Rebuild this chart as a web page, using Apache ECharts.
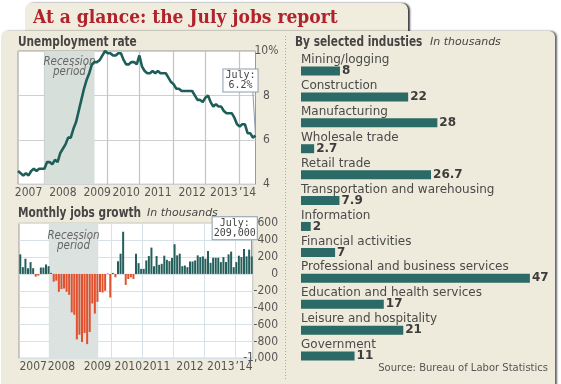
<!DOCTYPE html>
<html><head><meta charset="utf-8">
<script src="https://cdn.jsdelivr.net/npm/echarts@6/dist/echarts.min.js"></script>
<style>html,body{margin:0;padding:0;background:#fff}#c{width:561px;height:384px}</style>
</head><body><div id="c"></div>
<script>
// ---- data ----
const months = [];
for (let y = 2007; y <= 2014; y++) for (let m = 1; m <= 12; m++) { if (y === 2014 && m > 7) break; months.push(y + '-' + String(m).padStart(2, '0')); }

const unemployment = [
  4.6,4.5,4.4,4.5,4.4,4.6,4.7,4.6,4.7,4.7,4.7,5.0,
  5.0,4.9,5.1,5.0,5.4,5.6,5.8,6.1,6.1,6.5,6.8,7.3,
  7.8,8.3,8.7,9.0,9.4,9.5,9.5,9.6,9.8,10.0,9.9,9.9,
  9.8,9.8,9.9,9.9,9.6,9.4,9.4,9.5,9.5,9.4,9.8,9.3,
  9.1,9.0,9.0,9.1,9.0,9.1,9.0,9.0,9.0,8.8,8.6,8.5,
  8.3,8.3,8.2,8.2,8.2,8.2,8.2,8.0,7.8,7.8,7.7,7.9,
  8.0,7.7,7.5,7.6,7.5,7.5,7.3,7.2,7.2,7.2,7.0,6.7,
  6.6,6.7,6.7,6.3,6.3,6.1,6.2
];
const jobsGrowth = [
  232,80,180,68,140,68,-32,-20,76,76,112,92,
  12,-92,-80,-212,-180,-172,-212,-248,-456,-484,-776,-720,
  -808,-700,-832,-688,-350,-470,-330,-215,-220,-200,5,-280,
  12,-40,150,240,500,-130,-60,-40,-60,240,128,60,
  60,160,212,312,92,212,108,120,216,168,152,188,
  352,220,240,92,100,80,148,148,160,220,200,208,
  180,272,132,192,192,192,140,200,140,232,264,80,
  140,216,200,296,208,288,209
];
const yearLabels = ['2007','2008','2009','2010','2011','2012','2013','\u201914'];
const lineYearIdx = [4,17,30,41,53,66,78,87];
const lineGridIdx = [10,22,34,46,59,71,84];
const jobsYearIdx = [5,16,30,42,53,66,78,87];
const recessionLine = [10, 29];      // month index (category positions)
const recessionJobs = [11.6, 30.8];  // month bands
const unempTicks = [4, 6, 8, 10];
const jobsTicks = [-1000,-800,-600,-400,-200,0,200,400,600];

const industries = ['Mining/logging','Construction','Manufacturing','Wholesale trade','Retail trade',
  'Transportation and warehousing','Information','Financial activities',
  'Professional and business services','Education and health services','Leisure and hospitality','Government'];
const industryJobs = [8,22,28,2.7,26.7,7.9,2,7,47,17,21,11];

// ---- styles ----
const NARROW = "'Liberation Sans Narrow','DejaVu Sans Condensed',sans-serif";
const VERD = "'DejaVu Sans',Verdana,sans-serif";
const MONO = "'DejaVu Sans Mono',monospace";
const HEAD = "bold 14px 'DejaVu Sans Condensed','DejaVu Sans',sans-serif";
const TEAL = '#245f5b';
const RED = '#e1512d';
const last = months.length - 1;

function head(x, y, text) {
  return {type: 'text', z: 5, x: x, y: y, scaleX: 0.84, originX: 0, originY: 0,
    style: {text: text, verticalAlign: 'middle', font: HEAD, fill: '#454545'}};
}
function sub(x, y, text) {
  return {type: 'text', z: 5, x: x, y: y, style: {text: text, verticalAlign: 'middle', font: 'italic 11px ' + VERD, fill: '#454545'}};
}

const chart = echarts.init(document.getElementById('c'), null, {renderer: 'canvas'});
chart.setOption({
  animation: false,
  backgroundColor: '#fff',
  graphic: [
    {type: 'rect', z: -20, shape: {x: 25, y: 3, width: 383, height: 40, r: [7,7,0,0]},
      style: {fill: '#f0eddf', shadowColor: 'rgba(0,0,0,0.75)', shadowOffsetX: 2, shadowBlur: 2}},
    {type: 'rect', z: -19, shape: {x: 1, y: 31, width: 554, height: 370, r: [6,6,0,0]},
      style: {fill: '#eeebdc', shadowColor: 'rgba(0,0,0,0.6)', shadowOffsetX: 2, shadowBlur: 2}},
    {type: 'line', z: -18, shape: {x1: 285.5, y1: 36, x2: 285.5, y2: 380},
      style: {stroke: '#a9a79c', lineWidth: 1, lineDash: [1, 2]}},
    {type: 'text', z: 5, x: 33, y: 18, style: {text: 'At a glance: the July jobs report', verticalAlign: 'middle',
      font: "bold 19px 'DejaVu Serif Condensed','DejaVu Serif',serif", fill: '#b1222b'}},
    head(18, 42, 'Unemployment rate'),
    head(18, 213, 'Monthly jobs growth'),
    sub(147, 213, 'In thousands'),
    head(295, 42, 'By selected industies'),
    sub(430, 42, 'In thousands'),
    {type: 'text', z: 5, x: 548, y: 368, style: {text: 'Source: Bureau of Labor Statistics', align: 'right', verticalAlign: 'middle',
      font: '10px ' + VERD, fill: '#555'}}
  ],
  grid: [
    {left: 18, top: 51, width: 237.5, height: 133.3, show: true, backgroundColor: '#fff', borderColor: '#9a9a9a', borderWidth: 1, outerBoundsMode: 'none'},
    {left: 19, top: 223.3, width: 234, height: 135, show: true, backgroundColor: '#fff', borderColor: '#9a9a9a', borderWidth: 1, outerBoundsMode: 'none'},
    {left: 301, top: 58, width: 243.5, height: 311, outerBoundsMode: 'none'}
  ],
  xAxis: [
    {type: 'category', gridIndex: 0, data: months, boundaryGap: false,
      axisLine: {show: false}, axisTick: {show: false},
      axisLabel: {interval: (i) => lineYearIdx.includes(i), formatter: (v, i) => yearLabels[lineYearIdx.indexOf(i)],
        margin: 3, fontFamily: NARROW, fontSize: 12, color: '#555'},
      splitLine: {show: true, interval: (i) => lineGridIdx.includes(i), lineStyle: {color: '#c4c4c4', width: 1.2}}},
    {type: 'category', gridIndex: 1, data: months, boundaryGap: true,
      axisLine: {show: false}, axisTick: {show: false},
      axisLabel: {interval: (i) => jobsYearIdx.includes(i), formatter: (v, i) => yearLabels[jobsYearIdx.indexOf(i)],
        margin: 3, fontFamily: NARROW, fontSize: 12, color: '#555'},
      splitLine: {show: true, interval: (i) => i > 0 && i % 12 === 0, lineStyle: {color: '#d6e2e7', width: 1}}},
    {type: 'value', gridIndex: 2, min: 0, max: 50, show: false},
    {type: 'value', gridIndex: 1, min: 0, max: months.length, show: false}
  ],
  yAxis: [
    {type: 'value', gridIndex: 0, position: 'right', min: unempTicks[0], max: unempTicks[unempTicks.length - 1], interval: 2,
      axisLine: {show: false}, axisTick: {show: false},
      axisLabel: {align: 'center', margin: 11, fontFamily: NARROW, fontSize: 12, color: '#555',
        formatter: (v) => v === 10 ? v + '%' : String(v)},
      splitLine: {show: true, lineStyle: {color: '#cfcfcf'}}},
    {type: 'value', gridIndex: 1, position: 'right', min: jobsTicks[0], max: jobsTicks[jobsTicks.length - 1], interval: 200,
      axisLine: {show: false}, axisTick: {show: false},
      axisLabel: {align: 'right', margin: 25, fontFamily: NARROW, fontSize: 12, color: '#555',
        formatter: (v) => v.toLocaleString('en-US')},
      splitLine: {show: true, lineStyle: {color: '#d6e2e7'}}},
    {type: 'category', gridIndex: 2, data: industries, inverse: true,
      axisLine: {show: false}, axisTick: {show: false},
      axisLabel: {inside: true, align: 'left', verticalAlign: 'bottom', margin: 0, padding: [0, 0, 5, 0],
        fontFamily: VERD, fontSize: 12, color: '#4a4a4a'},
      splitLine: {show: false}}
  ],
  series: [
    {type: 'line', xAxisIndex: 0, yAxisIndex: 0, data: unemployment, showSymbol: false, symbol: 'none',
      lineStyle: {color: '#1e5e58', width: 2.6}, z: 3,
      markArea: {silent: true, itemStyle: {color: '#d7dfdb'},
        label: {show: true, position: 'insideTop', distance: 6, formatter: 'Recession\nperiod', fontStyle: 'italic',
          fontFamily: NARROW, fontSize: 11.5, lineHeight: 10, color: '#666'},
        data: [[{xAxis: recessionLine[0]}, {xAxis: recessionLine[1]}]]},
      markLine: {silent: true, symbol: ['none', 'none'], label: {show: false},
        lineStyle: {color: '#8d9cab', width: 1, type: 'solid'},
        data: [[{coord: [last - 1, 8.15]}, {coord: [last, unemployment[last]]}]]},
      markPoint: {silent: true, symbol: 'circle', symbolSize: 0,
        label: {show: true, formatter: 'July:\n' + unemployment[last] + '%', offset: [-15, -55],
          backgroundColor: '#fff', borderColor: '#8d9cab', borderWidth: 1, padding: [1, 2],
          fontFamily: MONO, fontSize: 10, lineHeight: 10, color: '#444'},
        data: [{coord: [last, unemployment[last]]}]}
    },
    {type: 'line', xAxisIndex: 3, yAxisIndex: 1, data: [], z: 1,
      markArea: {silent: true, itemStyle: {color: '#dce2df'},
        label: {show: true, position: 'insideTop', distance: 8, formatter: 'Recession\nperiod', fontStyle: 'italic',
          fontFamily: NARROW, fontSize: 11.5, lineHeight: 10, color: '#666'},
        data: [[{xAxis: recessionJobs[0]}, {xAxis: recessionJobs[1]}]]}
    },
    {type: 'bar', xAxisIndex: 1, yAxisIndex: 1, data: jobsGrowth, barWidth: 2, z: 3,
      itemStyle: {color: (p) => p.value < 0 ? RED : TEAL},
      markLine: {silent: true, symbol: ['none', 'none'], label: {show: false},
        lineStyle: {color: '#8d9cab', width: 1, type: 'solid'},
        data: [[{coord: [last, 430]}, {coord: [last, jobsGrowth[last]]}]]},
      markPoint: {silent: true, symbol: 'circle', symbolSize: 0,
        label: {show: true, formatter: 'July:\n' + (jobsGrowth[last] * 1000).toLocaleString('en-US'), offset: [-17, -28],
          backgroundColor: '#fff', borderColor: '#8d9cab', borderWidth: 1, padding: [1, 1],
          fontFamily: MONO, fontSize: 10, lineHeight: 10, color: '#444'},
        data: [{coord: [last, jobsGrowth[last]]}]}
    },
    {type: 'bar', xAxisIndex: 2, yAxisIndex: 2, data: industryJobs, barWidth: 9,
      itemStyle: {color: '#2b6a66'},
      label: {show: true, position: 'right', distance: 2, fontFamily: VERD, fontSize: 12, fontWeight: 'bold', color: '#3d3d3d'}}
  ]
});
</script></body></html>
